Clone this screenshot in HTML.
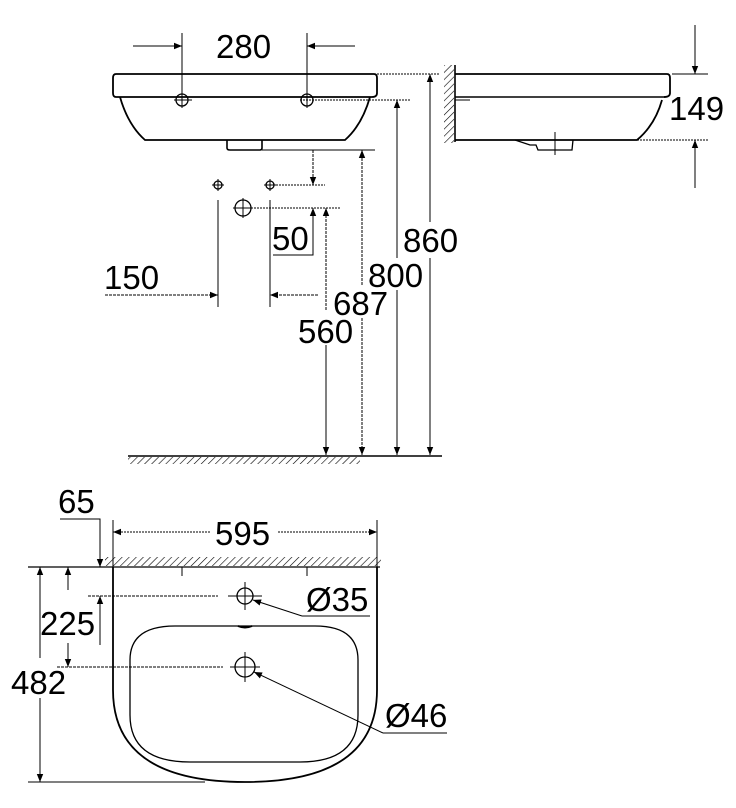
<!DOCTYPE html>
<html><head><meta charset="utf-8"><style>html,body{margin:0;padding:0;background:#fff}svg{display:block}text{font-family:"Liberation Sans",sans-serif;font-size:33px;fill:#000}</style></head><body>
<svg width="736" height="808" viewBox="0 0 736 808" xmlns="http://www.w3.org/2000/svg">
<defs>
<marker id="a" viewBox="0 0 10 10" refX="10" refY="5" markerWidth="16" markerHeight="8" markerUnits="userSpaceOnUse" orient="auto"><path d="M0,1L10,5L0,9z" fill="#000"/></marker>
<pattern id="h" width="5" height="5" patternUnits="userSpaceOnUse" patternTransform="rotate(45)"><line x1="0" y1="0" x2="0" y2="5" stroke="#000" stroke-width="1.2"/></pattern>
</defs>
<g stroke="#000" fill="none" stroke-width="1.3">
<path d="M116,74 H374 Q377,74 377,78 V93 Q377,97 372,97 H116 Q113,97 113,93 V78 Q113,74 116,74Z" stroke-width="1.8"/>
<path d="M120,97 Q128,125 145,140 H345 Q362,125 370,97" stroke-width="1.8"/>
<path d="M227,140 V148 Q227,150 230,150 H260 Q262,150 262,148 V140" stroke-width="1.6"/>
<circle cx="182" cy="100" r="6"/><circle cx="307" cy="100" r="6"/>
<line x1="182" y1="33" x2="182" y2="108" stroke-width="1"/><line x1="307" y1="33" x2="307" y2="108" stroke-width="1"/>
<line x1="174" y1="100" x2="192" y2="100" stroke-width="1"/>
<line x1="133" y1="46" x2="182" y2="46" marker-end="url(#a)" stroke-width="1"/>
<line x1="355" y1="46" x2="307" y2="46" marker-end="url(#a)" stroke-width="1"/>
<line x1="377" y1="74" x2="440" y2="74" stroke-width="1" stroke-dasharray="2 1"/>
<line x1="300" y1="100" x2="410" y2="100" stroke-width="1" stroke-dasharray="2 1"/>
<line x1="262" y1="150" x2="375" y2="150" stroke-width="1"/>
<circle cx="218" cy="185" r="4"/><circle cx="270" cy="185" r="4"/><circle cx="243" cy="208" r="8"/>
<path d="M212,185H224M218,179V191M264,185H276M270,179V191M233,208H253M243,198V218" stroke-width="1"/>
<line x1="270" y1="185" x2="325" y2="185" stroke-width="1" stroke-dasharray="2 1"/>
<line x1="251" y1="208" x2="340" y2="208" stroke-width="1" stroke-dasharray="2 1"/>
<line x1="218" y1="200" x2="218" y2="307" stroke-width="1"/><line x1="270" y1="200" x2="270" y2="307" stroke-width="1"/>
<line x1="105" y1="295" x2="218" y2="295" marker-end="url(#a)" stroke-width="1" stroke-dasharray="3 1"/>
<line x1="318" y1="295" x2="270" y2="295" marker-end="url(#a)" stroke-width="1" stroke-dasharray="3 1"/>
<line x1="313" y1="150" x2="313" y2="185" marker-end="url(#a)" stroke-width="1" stroke-dasharray="3 1"/>
<polyline points="313,228 313,255 273,255" stroke-width="1"/>
<line x1="313" y1="235" x2="313" y2="208" marker-end="url(#a)" stroke-width="1"/>
<line x1="326" y1="310" x2="326" y2="208" marker-end="url(#a)" stroke-width="1" stroke-dasharray="3 1"/>
<line x1="326" y1="345" x2="326" y2="455" marker-end="url(#a)" stroke-width="1"/>
<line x1="362" y1="285" x2="362" y2="150" marker-end="url(#a)" stroke-width="1" stroke-dasharray="3 1"/>
<line x1="362" y1="318" x2="362" y2="455" marker-end="url(#a)" stroke-width="1" stroke-dasharray="3 1"/>
<line x1="397" y1="258" x2="397" y2="100" marker-end="url(#a)" stroke-width="1"/>
<line x1="397" y1="290" x2="397" y2="455" marker-end="url(#a)" stroke-width="1"/>
<line x1="430" y1="222" x2="430" y2="74" marker-end="url(#a)" stroke-width="1"/>
<line x1="430" y1="258" x2="430" y2="455" marker-end="url(#a)" stroke-width="1"/>
<line x1="128" y1="456" x2="442" y2="456" stroke-width="1.6"/>
<rect x="128" y="457" width="232" height="7" fill="url(#h)" stroke="none"/>
<rect x="444" y="65" width="10" height="78" fill="url(#h)" stroke="none"/>
<line x1="455" y1="65" x2="455" y2="142" stroke-width="1.6"/>
<path d="M455,74 H667 Q670,74 670,78 V93 Q670,97 664,97" stroke-width="1.8"/>
<line x1="455" y1="97" x2="665" y2="97" stroke-width="1.6"/>
<path d="M662,100 Q655,125 637,140 H455" stroke-width="1.8"/>
<path d="M515,140 L530,145 H536 L538,150 H572 L573,140" stroke-width="1.3"/>
<line x1="555" y1="132" x2="555" y2="155" stroke-width="1"/>
<line x1="455" y1="100" x2="470" y2="100" stroke-width="1"/>
<line x1="672" y1="74" x2="708" y2="74" stroke-width="1"/>
<line x1="637" y1="140" x2="708" y2="140" stroke-width="1" stroke-dasharray="2 1"/>
<line x1="695" y1="25" x2="695" y2="74" marker-end="url(#a)" stroke-width="1"/>
<line x1="695" y1="188" x2="695" y2="140" marker-end="url(#a)" stroke-width="1"/>
<rect x="105" y="557" width="276" height="9" fill="url(#h)" stroke="none"/>
<line x1="28" y1="567" x2="380" y2="567" stroke-width="1.3"/>
<path d="M113,567 V690 Q113,782 245,782 Q377,782 377,690 V567" stroke-width="1.8"/>
<path d="M175,626 H315 Q358,626 358,660 V715 Q358,762 300,762 H190 Q130,762 130,715 V660 Q130,626 175,626Z" stroke-width="1.3"/>
<path d="M238,626 Q245,629 252,626" stroke-width="2"/>
<line x1="182" y1="567" x2="182" y2="576" stroke-width="1"/><line x1="307" y1="567" x2="307" y2="576" stroke-width="1"/>
<line x1="113" y1="520" x2="113" y2="567" stroke-width="1"/><line x1="377" y1="520" x2="377" y2="567" stroke-width="1"/>
<line x1="210" y1="532" x2="113" y2="532" marker-end="url(#a)" stroke-width="1" stroke-dasharray="2 1"/>
<line x1="278" y1="532" x2="377" y2="532" marker-end="url(#a)" stroke-width="1" stroke-dasharray="2 1"/>
<circle cx="245" cy="596" r="8"/><circle cx="245" cy="667" r="10"/>
<path d="M228,596H262M245,582V610M230,667H260M245,652V682" stroke-width="1"/>
<line x1="88" y1="596" x2="218" y2="596" stroke-width="1" stroke-dasharray="3 1"/>
<line x1="57" y1="667" x2="223" y2="667" stroke-width="1" stroke-dasharray="3 1"/>
<line x1="370" y1="616" x2="302" y2="616" stroke-width="1"/>
<line x1="302" y1="616" x2="253" y2="600" marker-end="url(#a)" stroke-width="1"/>
<line x1="447" y1="733" x2="383" y2="733" stroke-width="1"/>
<line x1="383" y1="733" x2="254" y2="672" marker-end="url(#a)" stroke-width="1"/>
<polyline points="60,519 100,519 100,567" stroke-width="1" marker-end="url(#a)"/>
<line x1="100" y1="645" x2="100" y2="596" marker-end="url(#a)" stroke-width="1"/>
<line x1="68" y1="590" x2="68" y2="567" marker-end="url(#a)" stroke-width="1"/>
<line x1="68" y1="643" x2="68" y2="667" marker-end="url(#a)" stroke-width="1"/>
<line x1="40" y1="658" x2="40" y2="567" marker-end="url(#a)" stroke-width="1"/>
<line x1="40" y1="698" x2="40" y2="782" marker-end="url(#a)" stroke-width="1"/>
<line x1="28" y1="782" x2="205" y2="782" stroke-width="1"/>
</g>
<text x="216" y="58">280</text>
<text x="403" y="252">860</text>
<text x="368" y="287">800</text>
<text x="333" y="315">687</text>
<text x="298" y="343">560</text>
<text x="272" y="250">50</text>
<text x="104" y="289">150</text>
<text x="669" y="120">149</text>
<text x="58" y="513">65</text>
<text x="215" y="545">595</text>
<text x="306" y="611">Ø35</text>
<text x="40" y="635">225</text>
<text x="11" y="694">482</text>
<text x="385" y="727">Ø46</text>
</svg>
</body></html>
